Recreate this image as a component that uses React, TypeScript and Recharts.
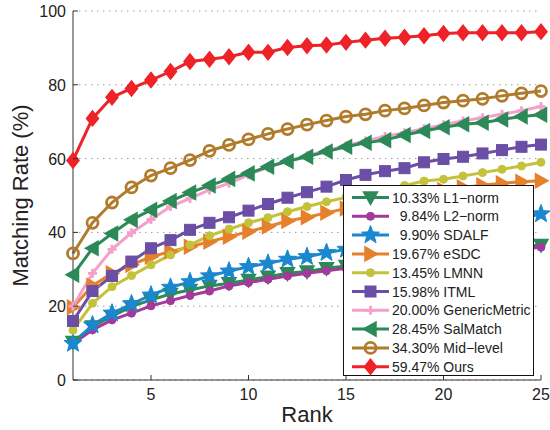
import React from "react";
import { CartesianGrid, Legend, Line, LineChart, XAxis, YAxis } from "recharts";

const ranks = [1, 2, 3, 4, 5, 6, 7, 8, 9, 10, 11, 12, 13, 14, 15, 16, 17, 18, 19, 20, 21, 22, 23, 24, 25];
const xTicks = [5, 10, 15, 20, 25];
const yTicks = [0, 20, 40, 60, 80, 100];

const l1Norm = [10.3, 14.5, 17.3, 19.9, 21.7, 23.3, 24.4, 25.5, 26.2, 27.1, 28.0, 28.9, 29.4, 30.3, 30.9, 31.5, 32.1, 32.7, 33.2, 33.8, 34.4, 35.0, 35.5, 36.1, 36.6];
const l2Norm = [9.8, 13.6, 16.3, 18.1, 20.1, 21.5, 22.9, 24.1, 25.5, 26.4, 27.3, 28.2, 28.9, 29.6, 30.3, 31.0, 31.6, 32.2, 32.8, 33.3, 33.9, 34.4, 35.0, 35.5, 36.0];
const sdalf = [9.9, 14.9, 18.1, 20.6, 23.0, 25.1, 26.6, 28.2, 29.5, 30.7, 31.6, 32.7, 33.4, 34.5, 35.4, 36.3, 37.2, 38.1, 39.0, 39.9, 40.8, 41.8, 42.8, 43.9, 45.0];
const esdc = [19.7, 25.6, 28.9, 31.2, 33.4, 34.8, 36.1, 37.5, 38.8, 40.2, 41.6, 43.1, 44.1, 45.3, 46.5, 47.9, 48.8, 49.7, 50.6, 51.5, 52.2, 52.8, 53.3, 53.7, 54.0];
const lmnn = [13.5, 20.8, 25.3, 28.3, 31.2, 33.9, 36.6, 39.1, 40.9, 42.6, 44.0, 45.6, 47.0, 48.3, 49.5, 50.6, 51.7, 52.7, 53.9, 54.4, 55.3, 56.2, 57.1, 58.0, 59.0];
const itml = [16.0, 24.1, 28.2, 32.1, 35.7, 37.9, 40.7, 42.6, 44.1, 45.9, 47.7, 49.4, 50.9, 52.4, 54.2, 55.6, 56.6, 57.4, 59.0, 59.9, 60.5, 61.4, 62.3, 63.2, 63.8];
const genericMetric = [20.0, 28.9, 35.4, 39.9, 43.5, 47.0, 49.2, 51.5, 53.3, 55.6, 57.6, 59.3, 60.8, 62.2, 63.5, 64.8, 66.0, 67.0, 68.1, 69.2, 70.2, 71.1, 72.0, 73.0, 74.1];
const salMatch = [28.5, 35.7, 39.7, 43.4, 46.1, 48.5, 50.8, 52.7, 54.5, 56.0, 57.8, 59.3, 60.5, 61.9, 63.2, 64.3, 65.0, 66.4, 67.5, 68.5, 69.3, 69.7, 70.6, 71.4, 71.9];
const midLevel = [34.3, 42.6, 48.1, 52.2, 55.4, 57.4, 59.6, 62.1, 63.7, 65.2, 66.7, 68.0, 69.2, 70.3, 71.4, 72.0, 73.0, 73.6, 74.4, 75.2, 75.7, 76.2, 77.0, 77.7, 78.3];
const ours = [59.5, 70.9, 76.6, 79.0, 81.3, 83.6, 86.3, 86.9, 87.6, 88.8, 88.8, 90.1, 90.6, 90.8, 91.5, 92.1, 92.6, 92.9, 93.3, 93.9, 94.1, 94.1, 94.1, 94.1, 94.4];

const series = [
  { key: "l1", label: "10.33% L1\u2212norm", values: l1Norm, color: "#2b8a57", shape: "down" },
  { key: "l2", label: "  9.84% L2\u2212norm", values: l2Norm, color: "#a2399b", shape: "dot" },
  { key: "sdalf", label: "  9.90% SDALF", values: sdalf, color: "#1a87cf", shape: "star" },
  { key: "esdc", label: "19.67% eSDC", values: esdc, color: "#e5812b", shape: "right" },
  { key: "lmnn", label: "13.45% LMNN", values: lmnn, color: "#c3c23a", shape: "dot" },
  { key: "itml", label: "15.98% ITML", values: itml, color: "#6b4ea5", shape: "square" },
  { key: "generic", label: "20.00% GenericMetric", values: genericMetric, color: "#f5a0c8", shape: "plus" },
  { key: "sal", label: "28.45% SalMatch", values: salMatch, color: "#2b8a57", shape: "left" },
  { key: "mid", label: "34.30% Mid\u2212level", values: midLevel, color: "#b07c2c", shape: "circle" },
  { key: "ours", label: "59.47% Ours", values: ours, color: "#ee2227", shape: "diamond" },
];

const data = ranks.map((rank, i) => {
  const row: Record<string, number> = { rank };
  series.forEach((s) => {
    row[s.key] = s.values[i];
  });
  return row;
});

const FONT = "'Liberation Sans', Arial, Helvetica, sans-serif";

function Marker({ shape, cx, cy, color }: { shape: string; cx: number; cy: number; color: string }) {
  switch (shape) {
    case "down":
      return <polygon points={`${cx - 7},${cy - 5.5} ${cx + 7},${cy - 5.5} ${cx},${cy + 7}`} fill={color} stroke={color} strokeWidth={1.5} />;
    case "right":
      return <polygon points={`${cx - 5.5},${cy - 7} ${cx - 5.5},${cy + 7} ${cx + 7},${cy}`} fill={color} stroke={color} strokeWidth={1.5} />;
    case "left":
      return <polygon points={`${cx + 5.5},${cy - 7} ${cx + 5.5},${cy + 7} ${cx - 7},${cy}`} fill={color} stroke={color} strokeWidth={1.5} />;
    case "diamond":
      return <polygon points={`${cx},${cy - 7.5} ${cx + 6},${cy} ${cx},${cy + 7.5} ${cx - 6},${cy}`} fill={color} stroke={color} strokeWidth={1.5} />;
    case "square":
      return <rect x={cx - 5.5} y={cy - 5.5} width={11} height={11} fill={color} stroke={color} strokeWidth={1} />;
    case "circle":
      return <circle cx={cx} cy={cy} r={5.5} fill="none" stroke={color} strokeWidth={2.8} />;
    case "plus":
      return (
        <path d={`M${cx - 4.5},${cy} H${cx + 4.5} M${cx},${cy - 4.5} V${cy + 4.5}`} stroke={color} strokeWidth={2.8} fill="none" />
      );
    case "star": {
      const pts: string[] = [];
      for (let k = 0; k < 10; k++) {
        const r = k % 2 === 0 ? 9.5 : 4;
        const a = -Math.PI / 2 + (k * Math.PI) / 5;
        pts.push(`${cx + r * Math.cos(a)},${cy + r * Math.sin(a)}`);
      }
      return <polygon points={pts.join(" ")} fill={color} stroke={color} strokeWidth={1} />;
    }
    default:
      return <circle cx={cx} cy={cy} r={4} fill={color} stroke={color} />;
  }
}

const makeDot = (shape: string, color: string, name: string) => (props: any) =>
  (
    <g key={`${name}-${props.index}`}>
      <Marker shape={shape} cx={props.cx} cy={props.cy} color={color} />
    </g>
  );

function BottomTick(props: any) {
  const { x, y, payload } = props;
  return (
    <g>
      <line x1={x} x2={x} y1={y} y2={y - 5} stroke="#333" />
      <text x={x} y={y + 20} textAnchor="middle" fontSize={16} fill="#222" fontFamily={FONT}>
        {payload.value}
      </text>
    </g>
  );
}

function TopTick(props: any) {
  const { x, y } = props;
  return <line x1={x} x2={x} y1={y} y2={y + 5} stroke="#333" />;
}

function LeftTick(props: any) {
  const { x, y, payload } = props;
  return (
    <g>
      <line x1={x} x2={x + 5} y1={y} y2={y} stroke="#333" />
      <text x={x - 7} y={y + 6} textAnchor="end" fontSize={16} fill="#222" fontFamily={FONT}>
        {payload.value}
      </text>
    </g>
  );
}

function RightTick(props: any) {
  const { x, y } = props;
  return <line x1={x} x2={x - 5} y1={y} y2={y} stroke="#333" />;
}

function LegendBox() {
  return (
    <svg width={191} height={191} style={{ display: "block" }}>
      <rect x={0.5} y={0.5} width={190} height={190} fill="#fff" stroke="#111" strokeWidth={1} />
      {series.map((s, i) => {
        const cy = 12.5 + i * 18.8;
        return (
          <g key={s.key}>
            <line x1={9} x2={46} y1={cy} y2={cy} stroke={s.color} strokeWidth={3} />
            <Marker shape={s.shape} cx={27.5} cy={cy} color={s.color} />
            <text x={49} y={cy + 5} fontSize={14} fill="#222" fontFamily={FONT} style={{ whiteSpace: "pre" }}>
              {s.label}
            </text>
          </g>
        );
      })}
    </svg>
  );
}

export default function App() {
  return (
    <div style={{ position: "absolute", left: 0, top: 0, background: "#fff" }}>
      <LineChart
        width={550}
        height={430}
        data={data}
        margin={{ top: 11, right: 9, bottom: 20, left: 13 }}
        style={{ fontFamily: FONT }}
      >
        <CartesianGrid vertical={false} stroke="#9a9a9a" strokeDasharray="1.5 4.5" />
        <XAxis
          dataKey="rank"
          type="number"
          domain={[1, 25]}
          ticks={xTicks}
          height={30}
          tickSize={0}
          tickMargin={0}
          tickLine={false}
          tick={<BottomTick />}
          axisLine={{ stroke: "#333" }}
          label={{
            content: (p: any) => (
              <text
                x={p.viewBox.x + p.viewBox.width / 2}
                y={p.viewBox.y + 42}
                textAnchor="middle"
                fontSize={22}
                fill="#222"
                fontFamily={FONT}
              >
                Rank
              </text>
            ),
          }}
        />
        <XAxis
          xAxisId="top"
          dataKey="rank"
          type="number"
          orientation="top"
          domain={[1, 25]}
          ticks={xTicks}
          height={0}
          tickSize={0}
          tickMargin={0}
          tickLine={false}
          tick={<TopTick />}
          axisLine={{ stroke: "#333" }}
        />
        <YAxis
          type="number"
          domain={[0, 100]}
          ticks={yTicks}
          width={60}
          tickSize={0}
          tickMargin={0}
          tickLine={false}
          tick={<LeftTick />}
          axisLine={{ stroke: "#333" }}
          label={{
            content: (p: any) => {
              const cx = p.viewBox.x + 7;
              const cy = p.viewBox.y + p.viewBox.height / 2;
              return (
                <text
                  x={cx}
                  y={cy}
                  transform={`rotate(-90 ${cx} ${cy})`}
                  textAnchor="middle"
                  dominantBaseline="central"
                  fontSize={22}
                  fill="#222"
                  fontFamily={FONT}
                >
                  Matching Rate (%)
                </text>
              );
            },
          }}
        />
        <YAxis
          yAxisId="right"
          orientation="right"
          type="number"
          domain={[0, 100]}
          ticks={yTicks}
          width={0}
          tickSize={0}
          tickMargin={0}
          tickLine={false}
          tick={<RightTick />}
          axisLine={{ stroke: "#333" }}
        />
        {series.map((s) => (
          <Line
            key={s.key}
            dataKey={s.key}
            name={s.label}
            stroke={s.color}
            strokeWidth={3}
            dot={makeDot(s.shape, s.color, s.key)}
            activeDot={false}
            isAnimationActive={false}
          />
        ))}
        <Legend
          layout="vertical"
          align="center"
          verticalAlign="middle"
          content={() => <LegendBox />}
          wrapperStyle={{ position: "absolute", left: 343, top: 185, width: 191, height: 191 }}
        />
      </LineChart>
    </div>
  );
}
